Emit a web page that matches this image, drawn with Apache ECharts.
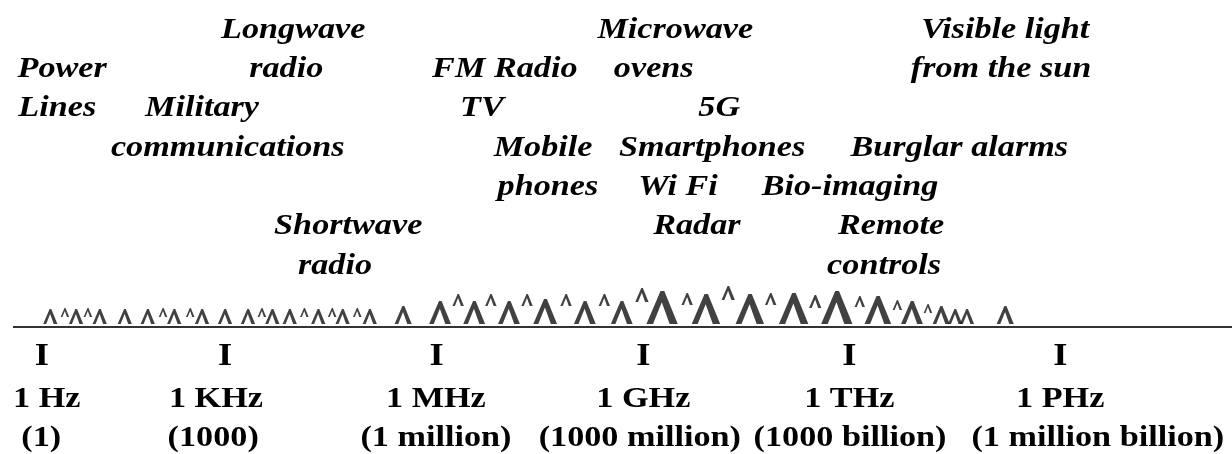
<!DOCTYPE html>
<html>
<head>
<meta charset="utf-8">
<script src="https://cdn.jsdelivr.net/npm/echarts@6/dist/echarts.min.js"></script>
<style>
html,body{margin:0;padding:0;background:#fff;}
#chart{width:1232px;height:454px;}
</style>
</head>
<body>
<div id="chart"></div>
<script>
// ---- data (x = log10 of frequency in Hz, y = text row from the top) ----
var labelTexts = ["Longwave","Microwave","Visible light",
  "Power","radio","FM Radio","ovens","from the sun",
  "Lines","Military","TV","5G",
  "communications","Mobile","Smartphones","Burglar alarms",
  "phones","Wi Fi","Bio-imaging",
  "Shortwave","Radar","Remote",
  "radio","controls"];
var labelDecade = [3.98,9.47,14.21,
  0.66,3.88,7.02,9.16,14.15,
  0.59,2.67,6.69,10.10,
  3.04,7.57,10.00,13.55,
  7.64,9.51,11.98,
  4.77,9.78,12.57,
  4.58,12.47];
var labelRow = [0,0,0, 1,1,1,1,1, 2,2,2,2, 3,3,3,3, 4,4,4, 5,5,5, 6,6];

// wave glyphs (Λ) along the spectrum line: position and amplitude
var waveDecade = [0.49,0.86,1.20,1.56,1.89,2.27,2.67,3.00,3.33,3.68,3.93,4.34,4.69,5.08,
  5.56,6.09,6.58,7.08,7.60,8.17,8.70,
  9.28,9.91,10.54,11.17,11.79,12.38,12.87,13.29,13.49,13.66,14.21];
var waveAmp = [15,15,15,15,15,15,15,15,15,15,15,15,15,15,
  18,23,23,23,25,23,23,
  33,30,30,31,33,28,23,18,15,15,18];
// small raised carets between the wave glyphs: position, amplitude, lift above the line
var caretDecade = [0.70,1.03,2.11,2.50,3.53,4.14,4.54,4.90,
  6.35,6.82,7.34,7.90,8.45,
  8.99,9.64,10.23,10.84,11.48,12.12,12.66,13.10];
var caretAmp = [9,9,9,9,9,9,9,9, 12,12,12,12,12, 14,12,14,12,13,11,10,9];
var caretLift = [7,7,7,7,7,7,7,7, 18,18,18,18,18, 22,19,24,19,16,17,14,11];

// frequency scale marks
var tickDecade = [0.37,3,6.04,9.01,11.97,15];
var unitTexts = ["1 Hz","1 KHz","1 MHz","1 GHz","1 THz","1 PHz"];
var unitDecade = [0.44,2.87,6.03,9.01,11.97,15.0];
var countTexts = ["(1)","(1000)","(1 million)","(1000 million)","(1000 billion)","(1 million billion)"];
var countDecade = [0.36,2.83,6.03,8.96,11.98,15.54];

// rows of the lower part
var BASE_ROW = 7.481, LINE_ROW = 7.557, TICK_ROW = 8.321, UNIT_ROW = 9.389, COUNT_ROW = 10.382;
var LINE_START = -0.046;

// ---- chart ----
var X_MIN = -0.2328, X_MAX = 17.468, Y_MIN = -0.7634, Y_MAX = 10.789;
var STRETCH = 1.14;
var LAMBDA = 'path://M0,100 L45,0 L57,0 L100,100 L74,100 L49,34 L21,100 Z';
var FAMILY = '"Liberation Serif", "Times New Roman", serif';

function textSeries(texts, xs, ys, font) {
  return {
    type: 'custom',
    coordinateSystem: 'cartesian2d',
    silent: true,
    data: texts.map(function (t, i) { return [xs[i], typeof ys === 'number' ? ys : ys[i], i]; }),
    renderItem: function (params, api) {
      var p = api.coord([api.value(0), api.value(1)]);
      var i = api.value(2);
      return {
        type: 'text',
        x: p[0], y: p[1],
        scaleX: STRETCH,
        style: { text: texts[i], font: font, fill: '#000', align: 'center', verticalAlign: 'middle' }
      };
    }
  };
}

var chart = echarts.init(document.getElementById('chart'), null, { renderer: 'canvas' });
chart.setOption({
  animation: false,
  backgroundColor: '#fff',
  grid: { left: 0, right: 0, top: 0, bottom: 0 },
  xAxis: { type: 'value', min: X_MIN, max: X_MAX, show: false },
  yAxis: { type: 'value', min: Y_MIN, max: Y_MAX, inverse: true, show: false },
  series: [
    textSeries(labelTexts, labelDecade, labelRow, 'italic bold 30px ' + FAMILY),
    {
      type: 'line', silent: true, symbol: 'none',
      data: [[LINE_START, LINE_ROW], [X_MAX, LINE_ROW]],
      lineStyle: { color: '#333', width: 2 }
    },
    {
      type: 'scatter', silent: true, symbol: LAMBDA,
      data: waveDecade.map(function (x, i) {
        var h = waveAmp[i];
        return { value: [x, BASE_ROW], symbolSize: [h * 0.95, h], symbolOffset: [0, -h / 2] };
      }),
      itemStyle: { color: '#111' }
    },
    {
      type: 'scatter', silent: true, symbol: LAMBDA,
      data: caretDecade.map(function (x, i) {
        var h = caretAmp[i];
        return { value: [x, BASE_ROW], symbolSize: [h * 0.95, h], symbolOffset: [0, -h / 2 - caretLift[i]] };
      }),
      itemStyle: { color: '#111' }
    },
    textSeries(tickDecade.map(function () { return 'I'; }), tickDecade, TICK_ROW, 'bold 32px ' + FAMILY),
    textSeries(unitTexts, unitDecade, UNIT_ROW, 'bold 30px ' + FAMILY),
    textSeries(countTexts, countDecade, COUNT_ROW, 'bold 30px ' + FAMILY)
  ]
});
</script>
</body>
</html>
